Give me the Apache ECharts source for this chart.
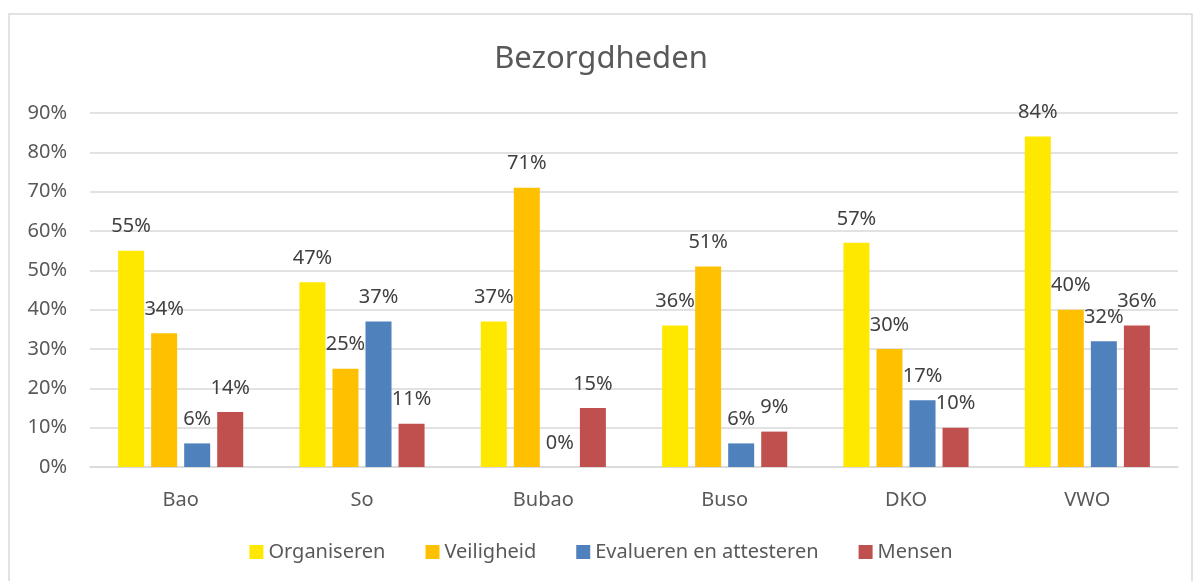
<!DOCTYPE html>
<html>
<head>
<meta charset="utf-8">
<script src="https://cdn.jsdelivr.net/npm/echarts@6/dist/echarts.min.js"></script>
<style>
    html, body { margin: 0; padding: 0; background: #fff; }
    #chart { width: 1202px; height: 581px; }
</style>
</head>
<body>
<div id="chart"></div>
<script>
// categorieën en waarden (in %)
const categories = ["Bao", "So", "Bubao", "Buso", "DKO", "VWO"];
const organiseren = [55, 47, 37, 36, 57, 84];
const veiligheid = [34, 25, 71, 51, 30, 40];
const evalueren = [6, 37, 0, 6, 17, 32];
const mensen = [14, 11, 15, 9, 10, 36];
const seriesNames = ["Organiseren", "Veiligheid", "Evalueren en attesteren", "Mensen"];
const colors = ["#FFE800", "#FFC000", "#4F81BD", "#C0504D"];

const font = "Noto Sans";
const textColor = "#595959";

function makeSeries(name, data, color) {
    return {
        name: name,
        type: "bar",
        data: data,
        barGap: "27%",
        barCategoryGap: "31%",
        itemStyle: { color: color },
        label: {
            show: true,
            position: "top",
            distance: 14,
            formatter: "{c}%",
            color: "#404040",
            fontSize: 20,
            fontFamily: font
        }
    };
}

const chart = echarts.init(document.getElementById("chart"));
chart.setOption({
    animation: false,
    color: colors,
    // rand rond de grafiek
    graphic: [{
        type: "rect",
        shape: { x: 9, y: 14, width: 1183, height: 600 },
        style: { fill: "none", stroke: "#D9D9D9", lineWidth: 1.5 }
    }],
    title: {
        text: "Bezorgdheden",
        left: "center",
        top: 39,
        textStyle: { color: textColor, fontSize: 31, fontWeight: "normal", fontFamily: font }
    },
    legend: {
        data: seriesNames,
        bottom: 14,
        left: "center",
        icon: "rect",
        itemWidth: 14,
        itemHeight: 14,
        itemGap: 40,
        textStyle: { color: textColor, fontSize: 20, fontFamily: font }
    },
    grid: { left: 90, right: 24, top: 113, bottom: 114 },
    xAxis: {
        type: "category",
        data: categories,
        axisLine: { lineStyle: { color: "#D9D9D9", width: 1.5 } },
        axisTick: { show: false },
        axisLabel: { color: textColor, fontSize: 20, fontFamily: font, margin: 23 }
    },
    yAxis: {
        type: "value",
        min: 0,
        max: 90,
        interval: 10,
        axisLabel: { formatter: "{value}%", color: textColor, fontSize: 20, fontFamily: font, margin: 23 },
        splitLine: { lineStyle: { color: "#D9D9D9", width: 1.5 } },
        axisLine: { show: false },
        axisTick: { show: false }
    },
    series: [
        makeSeries(seriesNames[0], organiseren, colors[0]),
        makeSeries(seriesNames[1], veiligheid, colors[1]),
        makeSeries(seriesNames[2], evalueren, colors[2]),
        makeSeries(seriesNames[3], mensen, colors[3])
    ]
});
</script>
</body>
</html>
